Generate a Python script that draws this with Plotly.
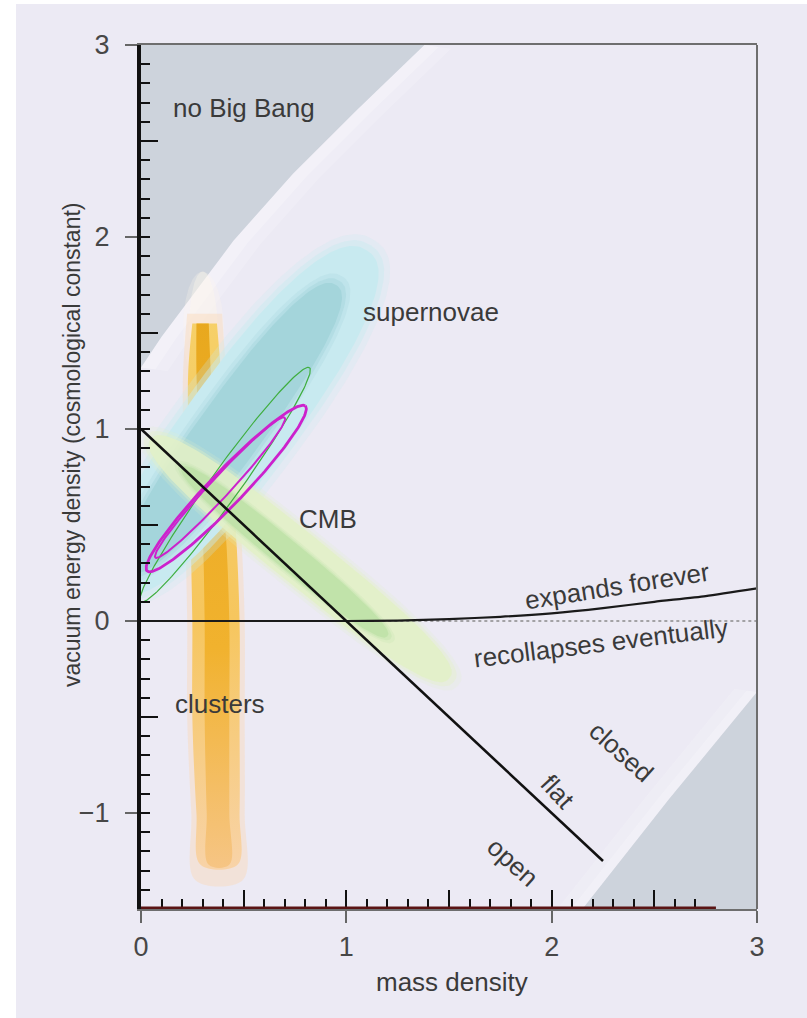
import numpy as np
import plotly.graph_objects as go

# ---------------------------------------------------------------- page / frame
W, H = 807, 1018
ML, MR, MT, MB = 141, 50, 45, 109
BG = "#ECEAF4"
FONT = "Liberation Sans, Arial, sans-serif"
TEXT_COLOR = "#3a3a3a"

# ---------------------------------------------------------------- axes
x_range = [0, 3]
y_range = [-1.5, 3]
x_label_ticks = [0, 1, 2, 3]
y_label_ticks = [-1, 0, 1, 2, 3]
x_short_ticks = [round(0.1 * i, 1) for i in range(1, 28)]
x_long_ticks = [0.5, 1.0, 1.5, 2.0, 2.5]
y_long_ticks = [-1.5, -0.5, 0.5, 1.5, 2.5]
y_short_ticks = [round(-1.5 + 0.1 * i, 1) for i in range(0, 46)
                 if round(-1.5 + 0.1 * i, 1) not in y_long_ticks]
axis_bar_end = 2.8

# ---------------------------------------------------------------- excluded regions
# "no Big Bang" boundary (upper left)
nobb_x = [0.0, 0.10, 0.24, 0.45, 0.74, 1.05, 1.38]
nobb_y = [1.32, 1.48, 1.68, 1.98, 2.33, 2.66, 3.00]
# lower-right excluded corner
corner_x = [3.0, 2.57, 2.15]
corner_y = [-0.37, -0.93, -1.50]

# ---------------------------------------------------------------- model lines
flat_x = [0.0, 2.25]
flat_y = [1.0, -1.25]
expand_x = [0.0, 1.0, 1.25, 1.5, 1.75, 2.0, 2.25, 2.5, 2.75, 3.0]
expand_y = [0.0, 0.0, 0.002, 0.01, 0.022, 0.04, 0.067, 0.10, 0.13, 0.17]
recollapse_x = [1.0, 3.0]
recollapse_y = [0.0, 0.0]

# ---------------------------------------------------------------- confidence regions
# (end point A, end point B, half width, squareness)
sn_outer = ((-0.12, 0.16), (1.10, 1.93), 0.26, 2.4)
sn_inner = ((-0.06, 0.26), (0.95, 1.75), 0.16, 2.4)
cmb_outer = ((0.05, 0.95), (1.50, -0.30), 0.13, 2.6)
cmb_inner = ((0.20, 0.80), (1.20, -0.08), 0.07, 2.4)
combo_green = ((0.00, 0.10), (0.82, 1.32), 0.075, 2.0)
combo_outer = ((0.03, 0.26), (0.80, 1.12), 0.085, 2.0)
combo_inner = ((0.07, 0.33), (0.70, 1.06), 0.05, 2.0)

# clusters band: edges at a set of heights
cl_y = [1.55, 1.30, 1.00, 0.50, 0.00, -0.50, -1.00, -1.27]
cl_out_left = [0.25, 0.23, 0.23, 0.24, 0.25, 0.25, 0.27, 0.29]
cl_out_right = [0.37, 0.39, 0.42, 0.46, 0.48, 0.48, 0.48, 0.47]
cl_in_left = [0.27, 0.27, 0.28, 0.30, 0.31, 0.31, 0.32, 0.33]
cl_in_right = [0.33, 0.34, 0.36, 0.41, 0.43, 0.43, 0.43, 0.43]

# ---------------------------------------------------------------- labels
labels = [
    ("no Big Bang", 0.50, 2.67, 0),
    ("supernovae", 1.41, 1.61, 0),
    ("CMB", 0.91, 0.53, 0),
    ("clusters", 0.385, -0.43, 0),
    ("expands forever", 2.32, 0.18, -9),
    ("recollapses eventually", 2.24, -0.115, -7),
    ("closed", 2.34, -0.68, 42),
    ("flat", 2.03, -0.89, 47),
    ("open", 1.81, -1.255, 42),
]


def band(a, b, half_w, power=2.0, n=200):
    """Closed outline of a (super)ellipse whose long axis runs from a to b."""
    a = np.asarray(a, float)
    b = np.asarray(b, float)
    c = (a + b) / 2
    d = b - a
    half_len = np.linalg.norm(d) / 2
    u = d / (2 * half_len)
    v = np.array([-u[1], u[0]])
    t = np.linspace(0, 2 * np.pi, n)
    e = 2.0 / power
    ct = np.sign(np.cos(t)) * np.abs(np.cos(t)) ** e
    st = np.sign(np.sin(t)) * np.abs(np.sin(t)) ** e
    pts = c[:, None] + half_len * ct * u[:, None] + half_w * st * v[:, None]
    return pts[0], pts[1]


def grown(spec, k_len, k_w):
    (a, b, w, p) = spec
    a = np.asarray(a, float)
    b = np.asarray(b, float)
    c = (a + b) / 2
    return (tuple(c + (a - c) * k_len), tuple(c + (b - c) * k_len), w * k_w, p)


fig = go.Figure()


def fill(x, y, color, **kw):
    fig.add_trace(go.Scatter(x=list(x), y=list(y), mode="lines", fill="toself",
                             fillcolor=color, line=dict(width=0),
                             hoverinfo="skip", showlegend=False, **kw))


def soft_region(spec, color_rgb, alpha):
    r, g, b_ = color_rgb
    for k_len, k_w, f in [(1.06, 1.22, 0.25), (1.03, 1.10, 0.45), (1.0, 1.0, 1.0)]:
        xs, ys = band(*grown(spec, k_len, k_w))
        fill(xs, ys, f"rgba({r},{g},{b_},{alpha * f:.3f})")


# --- excluded regions, each with a faint light rim
for k, a in [(0.13, 0.18), (0.07, 0.25)]:
    fill(nobb_x + [v + k for v in nobb_x[::-1]],
         nobb_y + [v - k * 0.15 for v in nobb_y[::-1]], f"rgba(255,255,255,{a})")
fill([0.0] + nobb_x + [0.0], [3.0] + nobb_y + [3.0], "#CDD3DC")

for k, a in [(0.11, 0.15), (0.05, 0.2)]:
    fill(corner_x + [v - k for v in corner_x[::-1]],
         corner_y + [v + k * 0.15 for v in corner_y[::-1]], f"rgba(255,255,255,{a})")
fill(corner_x + [3.0], corner_y + [-1.5], "#CDD3DC")

# --- clusters
for w, a in [(0.10, 0.25), (0.07, 0.35)]:
    glow_cx, glow_cy = band((0.30, 1.82), (0.31, 1.20), w, 2.0)
    fill(glow_cx, glow_cy, f"rgba(255,248,236,{a})")
fig.add_trace(go.Scatter(
    x=[v - 0.025 for v in cl_out_left] + [v + 0.025 for v in cl_out_right[::-1]],
    y=[cl_y[0] + 0.05] + cl_y[1:-1] + [cl_y[-1] - 0.08] + [cl_y[-1] - 0.08] + cl_y[-2:0:-1] + [cl_y[0] + 0.05],
    mode="lines", fill="toself", line=dict(width=0, shape="spline"),
    fillcolor="rgba(250,218,185,0.45)", hoverinfo="skip", showlegend=False))
fig.add_trace(go.Scatter(
    x=cl_out_left + cl_out_right[::-1], y=cl_y + cl_y[::-1],
    mode="lines", fill="toself", line=dict(width=0, shape="spline"),
    fillgradient=dict(type="vertical", start=-1.3, stop=1.6,
                      colorscale=[[0, "#F8D3A8"], [0.45, "#F6C65E"], [1, "#F6D068"]]),
    hoverinfo="skip", showlegend=False))
fig.add_trace(go.Scatter(
    x=cl_in_left + cl_in_right[::-1], y=cl_y + cl_y[::-1],
    mode="lines", fill="toself", line=dict(width=0, shape="spline"),
    fillgradient=dict(type="vertical", start=-1.3, stop=1.6,
                      colorscale=[[0, "#F6C585"], [0.4, "#F1B22E"], [1, "#E8A81E"]]),
    hoverinfo="skip", showlegend=False))

# --- supernovae
soft_region(sn_outer, (200, 234, 240), 1.0)
soft_region(sn_inner, (164, 213, 219), 1.0)

# --- CMB
soft_region(cmb_outer, (226, 240, 198), 0.80)
soft_region(cmb_inner, (188, 224, 165), 0.75)

# --- combined contours
for spec, color, width, dash in [
    (combo_green, "#3FAE3F", 1.2, "solid"),
    (combo_outer, "#CC22CC", 2.8, "solid"),
    (combo_inner, "#CC22CC", 2.0, "solid"),
]:
    xs, ys = band(*spec)
    fig.add_trace(go.Scatter(x=xs, y=ys, mode="lines",
                             line=dict(color=color, width=width, dash=dash),
                             hoverinfo="skip", showlegend=False))

# --- model lines
fig.add_trace(go.Scatter(x=recollapse_x, y=recollapse_y, mode="lines",
                         line=dict(color="#8a8a8a", width=1.6, dash="dot"),
                         hoverinfo="skip", showlegend=False))
fig.add_trace(go.Scatter(x=expand_x, y=expand_y, mode="lines",
                         line=dict(color="#1a1a1a", width=2.2, shape="spline", smoothing=0.6),
                         hoverinfo="skip", showlegend=False))
fig.add_trace(go.Scatter(x=flat_x, y=flat_y, mode="lines",
                         line=dict(color="#111111", width=2.6),
                         hoverinfo="skip", showlegend=False))

# --- invisible traces carrying the extra tick axes
for xa, ya in [("x2", "y2"), ("x3", "y3")]:
    fig.add_trace(go.Scatter(x=[None], y=[None], xaxis=xa, yaxis=ya,
                             mode="markers", showlegend=False, hoverinfo="skip"))

for text, x, y, ang in labels:
    fig.add_annotation(x=x, y=y, xref="x", yref="y", text=text, showarrow=False,
                       textangle=ang, xanchor="center", yanchor="middle",
                       font=dict(family=FONT, size=26, color=TEXT_COLOR))

# axis titles
pw = W - ML - MR
ph = H - MT - MB
fig.add_annotation(x=(452 - ML) / pw, y=(H - MB - 982) / ph, xref="paper", yref="paper",
                   text="mass density", showarrow=False, xanchor="center", yanchor="middle",
                   font=dict(family=FONT, size=26, color=TEXT_COLOR))
fig.add_annotation(x=(72 - ML) / pw, y=(H - MB - 445) / ph, xref="paper", yref="paper",
                   text="vacuum energy density (cosmological constant)", showarrow=False,
                   textangle=-90, xanchor="center", yanchor="middle",
                   font=dict(family=FONT, size=23, color=TEXT_COLOR))

tick_font = dict(family=FONT, size=27, color="#474747")
hidden = dict(showgrid=False, zeroline=False, showticklabels=False, showline=False)

fig.update_layout(
    width=W, height=H, autosize=False,
    margin=dict(l=ML, r=MR, t=MT, b=MB, pad=0),
    paper_bgcolor=BG, plot_bgcolor=BG,
    showlegend=False,
    xaxis=dict(range=x_range, showgrid=False, zeroline=False,
               showline=True, linecolor="#6e6e6e", linewidth=2, mirror=True,
               tickmode="array", tickvals=x_label_ticks, ticks="outside",
               ticklen=12, tickwidth=1.5, tickcolor="#666666",
               tickfont=tick_font, ticklabelstandoff=1),
    yaxis=dict(range=y_range, showgrid=False, zeroline=False,
               showline=True, linecolor="#111111", linewidth=4,
               tickmode="array", tickvals=y_label_ticks, ticks="outside",
               ticklen=12, tickwidth=1.5, tickcolor="#666666",
               tickfont=tick_font, ticklabelstandoff=10),
    xaxis2=dict(range=x_range, overlaying="x", anchor="y2", tickmode="array",
                tickvals=x_short_ticks, ticks="inside", ticklen=10, tickwidth=2,
                tickcolor="#111111", **hidden),
    yaxis2=dict(range=y_range, overlaying="y", anchor="x2", tickmode="array",
                tickvals=y_short_ticks, ticks="inside", ticklen=9, tickwidth=2,
                tickcolor="#111111", **hidden),
    xaxis3=dict(range=x_range, overlaying="x", anchor="y3", tickmode="array",
                tickvals=x_long_ticks, ticks="inside", ticklen=19, tickwidth=2,
                tickcolor="#111111", **hidden),
    yaxis3=dict(range=y_range, overlaying="y", anchor="x3", tickmode="array",
                tickvals=y_long_ticks, ticks="inside", ticklen=17, tickwidth=2,
                tickcolor="#111111", **hidden),
)

# frame: right border, maroon base bar, white page edges
fig.add_shape(type="line", xref="paper", yref="paper", x0=1, x1=1, y0=0, y1=1,
              line=dict(color="#6e6e6e", width=2), layer="above")
fig.add_shape(type="line", xref="x", yref="y", x0=0, x1=axis_bar_end,
              y0=y_range[0], y1=y_range[0], line=dict(color="#5a1414", width=5), layer="above")
fig.add_shape(type="rect", xref="paper", yref="paper",
              x0=-ML / pw, x1=(16 - ML) / pw, y0=-MB / ph, y1=1 + MT / ph,
              fillcolor="white", line=dict(width=0), layer="above")
fig.add_shape(type="rect", xref="paper", yref="paper",
              x0=-ML / pw, x1=1 + MR / pw, y0=1 + (MT - 4) / ph, y1=1 + MT / ph,
              fillcolor="white", line=dict(width=0), layer="above")

fig.write_html("out.html")
